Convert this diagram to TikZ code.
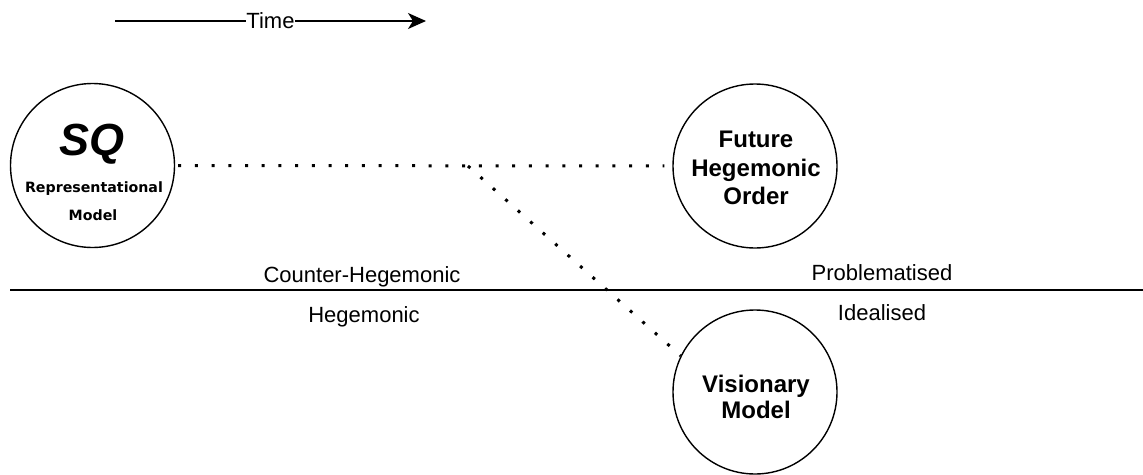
\documentclass[tikz,border=0pt]{standalone}
\usepackage{fontspec}
\setmainfont{Liberation Sans}
\newfontfamily\dejavu{DejaVu Sans}
\usetikzlibrary{arrows.meta}

\begin{document}
\begin{tikzpicture}[x=1pt,y=-1pt,
  stage/.style={circle,draw,line width=1.4pt,minimum size=164pt,inner sep=0pt},
  dotline/.style={line width=3pt,dash pattern=on 3pt off 13.7pt},
  sidelabel/.style={anchor=base,inner sep=0pt,font=\fontsize{22}{26}\selectfont},
  stagetext/.style={anchor=base,inner sep=0pt,font=\fontsize{24}{28}\selectfont\bfseries},
  smalltext/.style={anchor=base,inner sep=0pt,font=\dejavu\fontsize{14.2}{17}\selectfont\bfseries}
]
\useasboundingbox (0,0) rectangle (1143,474);

% time axis
\coordinate (tstart) at (115,21);
\coordinate (tend) at (426,21);
\draw[line width=1.4pt,-{Stealth[length=18pt,width=16pt,inset=5pt]}]
  (tstart) -- node[fill=white,inner sep=0.6pt,font=\fontsize{22}{26}\selectfont] (time) {Time} (tend);

% dividing line
\coordinate (divl) at (10,290);
\coordinate (divr) at (1143,290);
\draw[line width=1.4pt] (divl) -- (divr);

% stages
\node[stage] (sq) at (92.5,165.5) {};
\node[stage] (fho) at (755,166) {};
\node[stage] (vm) at (755,392) {};

% status quo text
\node[anchor=base,inner sep=0pt,font=\fontsize{45}{48}\selectfont\bfseries\itshape] (sqname) at (92,155) {SQ};
\node[smalltext] (sqrep) at (94,192) {Representational};
\node[smalltext] (sqmodel) at (93,220) {Model};

% future hegemonic order text
\node[stagetext] (fho1) at (756,147) {Future};
\node[stagetext] (fho2) at (756,176.5) {Hegemonic};
\node[stagetext] (fho3) at (756,204.5) {Order};

% visionary model text
\node[stagetext] (vm1) at (756,392) {Visionary};
\node[stagetext] (vm2) at (756,418.5) {Model};

% region labels
\node[sidelabel] (counter) at (362,282) {Counter-Hegemonic};
\node[sidelabel] (hegem) at (364,322) {Hegemonic};
\node[sidelabel] (problem) at (882,280) {Problematised};
\node[sidelabel] (ideal) at (882,320) {Idealised};

% dotted paths between stages
\coordinate (branch) at (468,166);
\draw[dotline,shorten <=3pt,shorten >=8pt] (sq.east) -- (fho.west);
\draw[dotline] (branch) -- (vm.154);
\end{tikzpicture}
\end{document}
